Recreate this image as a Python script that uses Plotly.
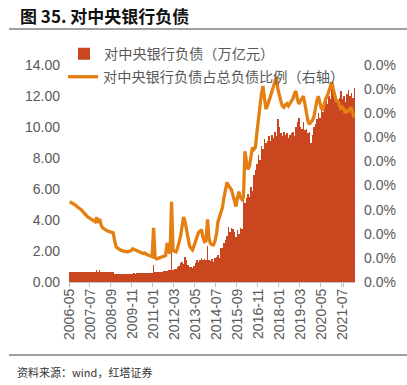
import pandas as pd
import plotly.graph_objects as go

# ---- data ----
MONTHS = pd.date_range("2006-05-01", periods=191, freq="MS").strftime("%Y-%m").tolist()

TICK_LABELS = ["2006-05", "2007-07", "2008-09", "2009-11", "2011-01", "2012-03", "2013-05",
               "2014-07", "2015-09", "2016-11", "2018-01", "2019-03", "2020-05", "2021-07"]

# 对中央银行负债（万亿元）
LIAB = [
    0.66, 0.65, 0.66, 0.65, 0.64, 0.66, 0.65, 0.64, 0.65, 0.66, 0.65, 0.64, 0.65, 0.64, 0.65,
    0.66, 0.64, 0.65, 0.78, 0.66, 0.80, 0.65, 0.64, 0.65, 0.64, 0.63, 0.64, 0.65, 0.64, 0.63,
    0.50, 0.49, 0.50, 0.50, 0.51, 0.50, 0.52, 0.51, 0.52, 0.53, 0.52, 0.54, 0.53, 0.55, 0.54,
    0.55, 0.56, 0.55, 0.57, 0.56, 0.58, 0.57, 0.58, 0.60, 0.59, 0.60,
    1.10, 0.62, 0.63, 0.62, 0.65, 0.64, 0.66, 0.68, 0.70, 0.72, 0.75, 0.78,
    2.20, 0.80, 0.85, 0.82, 0.97, 1.05, 1.20, 1.30, 1.15, 1.60, 1.45, 1.10,
    1.00, 0.95, 0.90, 1.05, 1.20, 1.40, 1.30, 1.45, 1.55, 1.40, 1.50, 1.45,
    2.30, 1.40, 1.35, 1.50, 1.30, 1.55, 1.60, 1.75, 1.55, 2.20, 2.20, 2.50,
    2.70, 3.00, 3.55, 3.20, 3.50, 3.40, 3.20, 2.90, 3.35, 3.10, 3.50, 3.40,
    5.30, 5.10, 5.40, 5.70, 5.50, 6.10, 5.90, 6.90, 7.20, 7.60, 8.20, 7.90,
    8.80, 8.60, 9.20, 9.00, 9.10, 9.40, 9.10, 9.50, 9.30, 9.70, 9.40, 10.50,
    10.00, 9.60, 9.40, 9.70, 9.50, 9.60, 9.30, 9.50, 9.60, 9.70, 9.40, 10.00,
    10.30, 10.60, 10.00, 9.90, 10.30, 9.80, 9.90, 9.60, 9.70, 9.00, 9.50, 10.00,
    10.20, 10.50, 10.90, 10.60, 11.10, 11.00, 11.40, 11.90, 11.50, 12.00, 11.80, 12.60,
    12.20, 11.90, 11.70, 11.50, 11.90, 12.30, 11.80, 12.00, 11.60, 12.10, 12.40, 12.00,
    12.20, 11.90, 12.50,
]

# 对中央银行负债占总负债比例（右轴）
RATIO = [
    3.33, 3.30, 3.25, 3.22, 3.18, 3.12, 3.08, 3.05, 2.98, 2.90, 2.82, 2.75,
    2.70, 2.66, 2.62, 2.58, 2.54, 2.50, 2.68, 2.45, 2.62, 2.35, 2.25, 2.20,
    2.17, 2.12, 2.10, 2.08, 2.06, 2.04, 1.70, 1.45, 1.40, 1.35, 1.32, 1.30,
    1.28, 1.26, 1.25, 1.26, 1.28, 1.30, 1.38, 1.35, 1.30, 1.28, 1.24, 1.22,
    1.20, 1.18, 1.20, 1.15, 1.12, 1.10, 1.08, 1.05, 2.25, 1.00, 0.96, 0.98,
    1.00, 1.02, 1.04, 1.06, 1.10, 1.62, 1.20, 1.25, 3.33, 1.30, 1.28, 1.25,
    1.40, 1.60, 1.90, 2.30, 2.70, 2.50, 2.20, 1.80, 1.50, 1.40, 1.33, 1.50,
    1.70, 1.90, 2.05, 2.10, 2.17, 1.85, 1.67, 1.70, 2.60, 1.80, 1.60, 1.55,
    1.54, 1.70, 2.00, 2.50, 2.70, 2.92, 3.10, 3.50, 3.80, 4.13, 4.00, 3.90,
    3.83, 3.60, 3.30, 3.13, 3.50, 3.75, 3.50, 3.42, 3.50, 5.42, 5.00, 4.67,
    4.80, 5.20, 5.58, 5.50, 5.58, 6.20, 6.80, 7.17, 7.80, 8.13, 7.60, 7.17,
    7.30, 7.50, 7.70, 7.90, 8.08, 8.20, 8.50, 8.00, 7.71, 7.50, 7.30, 7.25,
    7.35, 7.40, 7.30, 7.40, 7.46, 7.60, 7.80, 7.92, 7.60, 7.38, 7.50, 7.60,
    7.71, 7.40, 7.00, 6.70, 6.54, 6.60, 6.70, 6.83, 7.20, 7.50, 7.71, 7.40,
    7.20, 7.17, 7.40, 7.60, 7.71, 7.90, 8.10, 8.29, 8.00, 7.70, 7.50, 7.50,
    7.30, 7.20, 7.25, 7.17, 7.00, 7.10, 7.08, 7.15, 7.25, 7.00, 6.83,
]

LEFT_TICKS = [0, 2, 4, 6, 8, 10, 12, 14]
RIGHT_TICKS = [0, 1, 2, 3, 4, 5, 6, 7, 8, 9]
RIGHT_TICK_TEXT = ["0.0%"] * len(RIGHT_TICKS)

BAR_NAME = "对中央银行负债（万亿元）"
LINE_NAME = "对中央银行负债占总负债比例（右轴）"
TITLE = "图 35. 对中央银行负债"
SOURCE = "资料来源：wind，红塔证券"

# ---- style ----
BAR_COLOR = "#C9461F"
LINE_COLOR = "#E47F12"
TICK_COLOR = "#595959"
CJK = "Noto Sans CJK SC"
LAT = "Liberation Sans"

fig = go.Figure()
fig.add_trace(go.Bar(
    x=MONTHS, y=LIAB, name=BAR_NAME, marker=dict(color=BAR_COLOR, line=dict(width=0)),
    legend="legend", showlegend=True,
))
fig.add_trace(go.Scatter(
    x=MONTHS, y=RATIO, name=LINE_NAME, mode="lines", yaxis="y2",
    line=dict(color=LINE_COLOR, width=3.3), legend="legend2", showlegend=True,
))

W, H = 407, 385
L, R, T, B = 69, 52, 65, 103
pw, ph = W - L - R, H - T - B


def px_x(x):
    return (x - L) / pw


def px_y(y):
    return (H - B - y) / ph


LEG_FONT = dict(family=CJK, size=14.2, color="#595959")

fig.update_layout(
    width=W, height=H,
    margin=dict(l=L, r=R, t=T, b=B, autoexpand=False),
    paper_bgcolor="white", plot_bgcolor="white",
    bargap=0,
    showlegend=True,
    xaxis=dict(
        type="category", tickmode="array", tickvals=TICK_LABELS, ticktext=TICK_LABELS,
        tickangle=-90, tickfont=dict(family=LAT, size=14, color=TICK_COLOR),
        showline=True, linecolor="#BFBFBF", linewidth=1,
        ticks="outside", ticklen=4, tickcolor="#BFBFBF", tickson="boundaries",
        showgrid=False, zeroline=False,
    ),
    yaxis=dict(
        range=[0, 14], tickmode="array", tickvals=LEFT_TICKS, tickformat=".2f",
        tickfont=dict(family=LAT, size=14, color=TICK_COLOR),
        showgrid=False, zeroline=False, showline=False, ticks="",
        ticklabelstandoff=8,
    ),
    yaxis2=dict(
        range=[0, 9], overlaying="y", side="right", tickmode="array",
        tickvals=RIGHT_TICKS, ticktext=RIGHT_TICK_TEXT,
        tickfont=dict(family=LAT, size=14, color=TICK_COLOR),
        showgrid=False, zeroline=False, showline=False, ticks="",
        ticklabelstandoff=8,
    ),
    legend=dict(
        x=px_x(64), y=px_y(54), xanchor="left", yanchor="middle",
        bgcolor="rgba(0,0,0,0)", font=LEG_FONT, itemwidth=30,
    ),
    legend2=dict(
        x=px_x(63), y=px_y(77), xanchor="left", yanchor="middle",
        bgcolor="rgba(0,0,0,0)", font=LEG_FONT, itemwidth=30,
    ),
    title=dict(
        text=TITLE, xref="container", yref="container", x=20 / W, y=1 - 17 / H,
        xanchor="left", yanchor="middle",
        font=dict(family=CJK, size=17, color="#111111", weight="bold"),
    ),
    shapes=[
        dict(type="line", xref="paper", yref="paper", x0=px_x(9), x1=px_x(407),
             y0=px_y(29), y1=px_y(29), line=dict(color="#808080", width=1.5)),
        dict(type="line", xref="paper", yref="paper", x0=px_x(9), x1=px_x(407),
             y0=px_y(355), y1=px_y(355), line=dict(color="#404040", width=1)),
    ],
    annotations=[
        dict(text=SOURCE, xref="paper", yref="paper", x=px_x(15), y=px_y(372),
             xanchor="left", yanchor="middle", showarrow=False,
             font=dict(family=CJK, size=11, color="#333333")),
    ],
)

fig.write_html(
    "out.html",
    config={"staticPlot": True, "displayModeBar": False},
    post_script="document.body.style.margin='0px';document.body.style.overflow='hidden';",
)
